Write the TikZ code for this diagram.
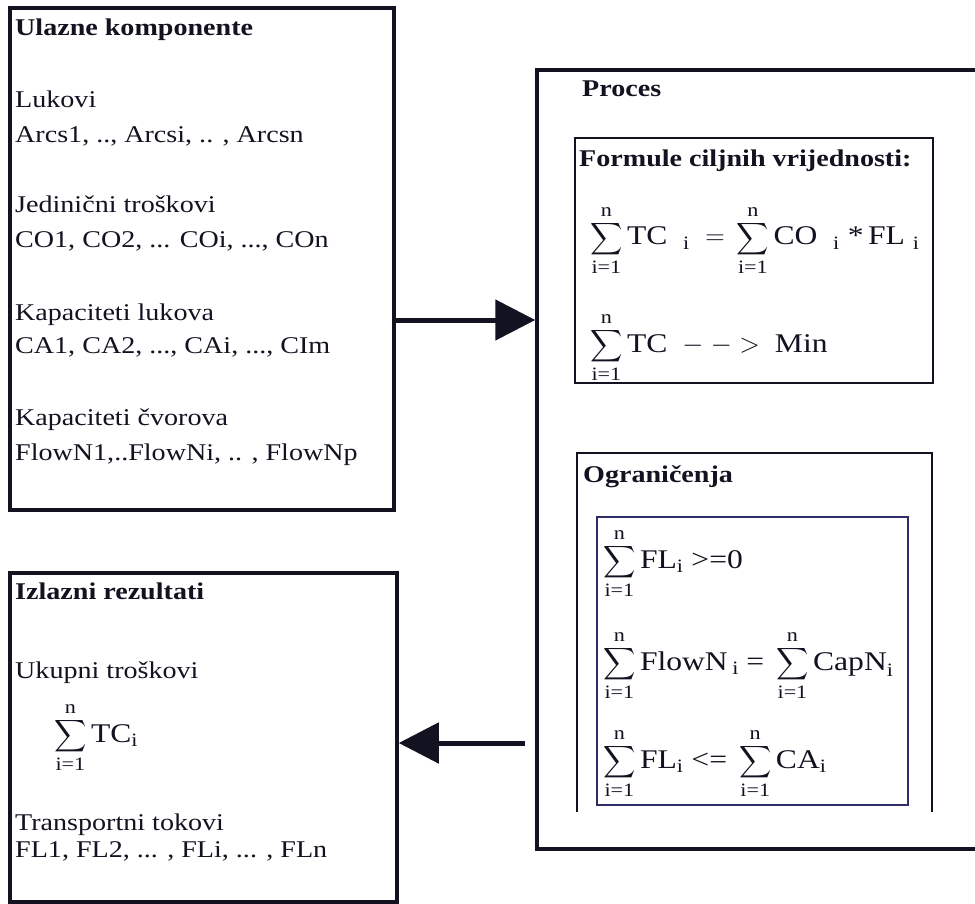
\RequirePackage{fix-cm}
\documentclass[tikz,border=0pt]{standalone}
\usepackage{amsmath}
\usepackage{exscale}
\usepackage{graphicx}
\usepackage{fontspec}
\setmainfont{Liberation Serif}[FakeStretch=1.17]
\usepackage{tikz}
\usetikzlibrary{positioning,arrows.meta,calc}
\definecolor{ink}{RGB}{18,18,32}
\definecolor{navy}{RGB}{45,45,105}
\newcommand{\sumn}{\mathop{\scalebox{0.9}{$\displaystyle\sum$}}\limits_{\text{i=1}}^{\text{n}}}

\begin{document}
\begin{tikzpicture}[x=1pt, y=-1pt, every node/.style={font=\fontsize{24}{29}\selectfont, text=ink},
    bigbox/.style={draw=ink, line width=3.5pt, inner sep=0pt},
    innerbox/.style={draw=ink, line width=2.5pt, inner sep=0pt},
    thinbox/.style={draw=navy, line width=1.5pt, inner sep=0pt},
    txt/.style={anchor=base west, inner sep=0pt},
    head/.style={txt, font=\fontsize{24}{29}\selectfont\bfseries},
    formula/.style={txt, font=\fontsize{27}{32}\selectfont},
    bigarrow/.style={draw=ink, line width=5pt, -{Triangle[length=40pt,width=40pt]}}]
      \path[use as bounding box, clip] (0,0) rectangle (975,904);
      \fill[white] (0,0) rectangle (975,904);
      % ulazne komponente
      \node[bigbox, minimum width=384pt, minimum height=502pt] (ulaz) at (202,259) {};
      \node[head] (ulazhead) at (15,36) {Ulazne komponente};
      \node[txt] (lukovi) at (15,108) {Lukovi};
      \node[txt] (arcs) at (15,143) {Arcs1, .., Arcsi, .. , Arcsn};
      \node[txt] (jedtr) at (15,213) {Jedinični troškovi};
      \node[txt] (co) at (15,248) {CO1, CO2, ... COi, ..., COn};
      \node[txt] (kaplu) at (15,320) {Kapaciteti lukova};
      \node[txt] (ca) at (15,353) {CA1, CA2, ..., CAi, ..., CIm};
      \node[txt] (kapcv) at (15,425) {Kapaciteti čvorova};
      \node[txt] (flown) at (15,460) {FlowN1,..FlowNi, .. , FlowNp};
      % proces
      \node[bigbox, minimum width=448pt, minimum height=779pt] (proces) at (761,459.5) {};
      \node[head] (proceshead) at (582,97) {Proces};
      \node[innerbox, minimum width=358pt, minimum height=245pt] (formule) at (754,260.5) {};
      \node[head] (formulehead) at (579,167) {Formule ciljnih vrijednosti:};
      \node[formula] (ciljA) at (590,245) {$\sumn\text{TC}\ \ {}_{\text{i}}\ =\,\sumn\text{CO}\ \ {}_{\text{i}}\ \text{*}\,\text{FL}\ {}_{\text{i}}$};
      \node[formula] (ciljB) at (590,352) {$\sumn\text{TC}\;\;{-}\;{-}\;{>}\;\;\text{Min}$};
      \draw[ink, line width=2.5pt] (577,812) -- (577,453) -- (932,453) -- (932,812);
      \node[head] (ogrhead) at (583,482) {Ograničenja};
      \node[thinbox, minimum width=311pt, minimum height=288pt] (uvjeti) at (752.5,661) {};
      \node[formula] (uvjA) at (603,568) {$\sumn\text{FL}_{\text{i}}\ \text{>=0}$};
      \node[formula] (uvjB) at (603,670) {$\sumn\text{FlowN}\,{}_{\text{i}}\;\text{=}\;\sumn\text{CapN}_{\text{i}}$};
      \node[formula] (uvjC) at (603,768) {$\sumn\text{FL}_{\text{i}}\ \text{<=}\;\sumn\text{CA}_{\text{i}}$};
      % izlazni rezultati
      \node[bigbox, minimum width=387pt, minimum height=329pt] (izlaz) at (203.5,737.5) {};
      \node[head] (izlazhead) at (15,599) {Izlazni rezultati};
      \node[txt] (ukupno) at (15,678) {Ukupni troškovi};
      \node[formula] (sumtc) at (54,742) {$\sumn\text{TC}_{\text{i}}$};
      \node[txt] (transp) at (15,830) {Transportni tokovi};
      \node[txt] (fl) at (15,857) {FL1, FL2, ... , FLi, ... , FLn};
      % tokovi
      \coordinate (izlazstart) at (525,743);
      \draw[bigarrow] (ulaz.east |- 0,320) -- (proces.west |- 0,320);
      \draw[bigarrow] (izlazstart) -- (izlaz.east |- izlazstart);
    \end{tikzpicture}
\end{document}
